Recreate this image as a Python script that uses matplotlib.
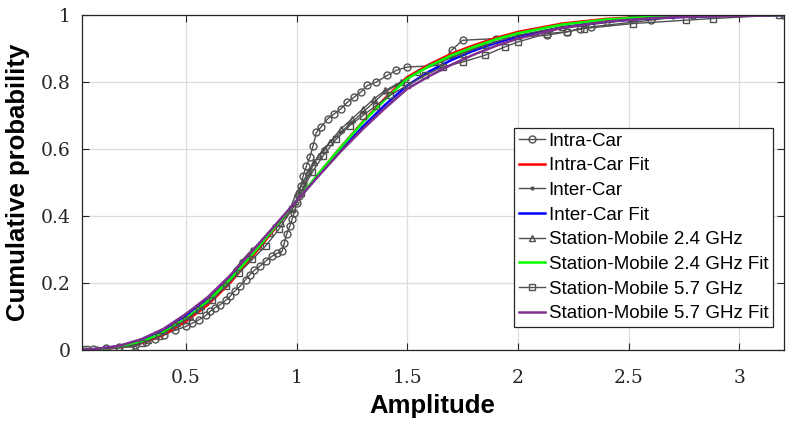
import matplotlib
matplotlib.use("Agg")
import matplotlib.pyplot as plt

# ---- data ----
intra_x = [0.08, 0.14, 0.20, 0.27, 0.32, 0.36, 0.40, 0.45, 0.50, 0.53, 0.56, 0.59, 0.61, 0.63,
           0.655, 0.68, 0.70, 0.72, 0.745, 0.77, 0.79, 0.81, 0.835, 0.86, 0.89, 0.91, 0.935,
           0.945, 0.955, 0.97, 0.98, 0.99, 1.00, 1.01, 1.02, 1.03, 1.045, 1.06, 1.075, 1.09,
           1.11, 1.14, 1.17, 1.20, 1.23, 1.26, 1.29, 1.32, 1.36, 1.41, 1.45, 1.50, 1.65,
           1.70, 1.75, 1.90, 2.13, 2.22, 2.28, 2.33, 2.60, 2.79, 3.20]
intra_y = [0.003, 0.006, 0.009, 0.015, 0.022, 0.032, 0.045, 0.058, 0.07, 0.08, 0.09, 0.103, 0.115, 0.125,
           0.135, 0.148, 0.16, 0.175, 0.19, 0.21, 0.225, 0.238, 0.25, 0.265, 0.28, 0.288, 0.295,
           0.32, 0.345, 0.37, 0.39, 0.41, 0.44, 0.46, 0.49, 0.52, 0.55, 0.575, 0.61, 0.65,
           0.665, 0.69, 0.705, 0.72, 0.74, 0.755, 0.77, 0.79, 0.80, 0.82, 0.835, 0.845, 0.85,
           0.895, 0.925, 0.93, 0.94, 0.95, 0.96, 0.965, 0.985, 1.0, 1.0]

inter_x = [0.05, 0.15, 0.25, 0.32, 0.38, 0.44, 0.50, 0.55, 0.60, 0.65, 0.70, 0.75, 0.80, 0.85,
           0.90, 0.95, 1.00, 1.02, 1.04, 1.06, 1.08, 1.10, 1.12, 1.16, 1.20, 1.25, 1.30, 1.35,
           1.40, 1.45, 1.50, 1.60, 1.70, 1.80, 1.90, 2.00, 2.15, 2.30, 2.50, 2.70, 3.20]
inter_y = [0.002, 0.005, 0.015, 0.03, 0.05, 0.07, 0.095, 0.12, 0.15, 0.18, 0.22, 0.265, 0.30, 0.33,
           0.37, 0.40, 0.44, 0.47, 0.50, 0.53, 0.56, 0.58, 0.60, 0.625, 0.65, 0.68, 0.71, 0.74,
           0.77, 0.79, 0.81, 0.85, 0.875, 0.90, 0.92, 0.935, 0.955, 0.97, 0.985, 0.993, 1.0]

sm24_x = [0.10, 0.27, 0.33, 0.40, 0.46, 0.52, 0.57, 0.62, 0.68, 0.72, 0.78, 0.83, 0.88, 0.93,
          0.97, 1.00, 1.03, 1.05, 1.08, 1.10, 1.13, 1.15, 1.20, 1.25, 1.30, 1.35, 1.40, 1.47,
          1.55, 1.65, 1.75, 1.85, 2.00, 2.20, 2.40, 2.53, 3.20]
sm24_y = [0.002, 0.01, 0.03, 0.055, 0.08, 0.10, 0.13, 0.165, 0.20, 0.24, 0.28, 0.31, 0.35, 0.38,
          0.42, 0.47, 0.50, 0.53, 0.56, 0.58, 0.60, 0.62, 0.66, 0.69, 0.72, 0.75, 0.775, 0.80,
          0.83, 0.86, 0.885, 0.91, 0.94, 0.965, 0.98, 0.998, 1.0]

sm57_x = [0.05, 0.20, 0.30, 0.38, 0.45, 0.50, 0.56, 0.62, 0.68, 0.74, 0.80, 0.86, 0.92, 0.98,
          1.02, 1.07, 1.12, 1.18, 1.24, 1.30, 1.36, 1.42, 1.50, 1.58, 1.66, 1.75, 1.85, 1.94,
          2.00, 2.13, 2.22, 2.30, 2.52, 2.76, 2.88, 3.18]
sm57_y = [0.002, 0.005, 0.02, 0.04, 0.07, 0.09, 0.12, 0.15, 0.19, 0.23, 0.27, 0.31, 0.36, 0.42,
          0.47, 0.53, 0.58, 0.63, 0.67, 0.70, 0.73, 0.76, 0.79, 0.82, 0.845, 0.86, 0.88, 0.905,
          0.92, 0.945, 0.95, 0.96, 0.975, 0.985, 0.99, 1.0]

fit_x = [0.03, 0.1, 0.2, 0.3, 0.4, 0.5, 0.6, 0.7, 0.8, 0.9, 1.0, 1.1, 1.2, 1.3, 1.4, 1.5,
         1.6, 1.7, 1.8, 1.9, 2.0, 2.2, 2.4, 2.6, 2.8, 3.0, 3.2]
intra_fit = [0.0, 0.002, 0.007, 0.02, 0.045, 0.085, 0.135, 0.20, 0.278, 0.36, 0.443, 0.526, 0.606,
             0.682, 0.752, 0.815, 0.853, 0.885, 0.91, 0.932, 0.95, 0.975, 0.989, 0.996, 0.999, 1.0, 1.0]
inter_fit = [0.0, 0.003, 0.011, 0.03, 0.06, 0.103, 0.155, 0.218, 0.29, 0.367, 0.445, 0.522, 0.597,
             0.667, 0.732, 0.79, 0.832, 0.866, 0.894, 0.917, 0.936, 0.964, 0.981, 0.991, 0.996, 0.999, 1.0]
sm24_fit = [0.0, 0.002, 0.008, 0.024, 0.052, 0.093, 0.145, 0.21, 0.285, 0.365, 0.445, 0.527, 0.605,
            0.68, 0.748, 0.81, 0.848, 0.88, 0.905, 0.928, 0.946, 0.972, 0.987, 0.995, 0.998, 1.0, 1.0]
sm57_fit = [0.0, 0.003, 0.012, 0.032, 0.063, 0.107, 0.158, 0.222, 0.295, 0.37, 0.445, 0.52, 0.593,
            0.66, 0.722, 0.78, 0.818, 0.852, 0.882, 0.908, 0.93, 0.962, 0.981, 0.991, 0.996, 0.998, 1.0]

labels = ["Intra-Car", "Intra-Car Fit", "Inter-Car", "Inter-Car Fit",
          "Station-Mobile 2.4 GHz", "Station-Mobile 2.4 GHz Fit",
          "Station-Mobile 5.7 GHz", "Station-Mobile 5.7 GHz Fit"]
xticks = [0.5, 1, 1.5, 2, 2.5, 3]
xticklabels = ["0.5", "1", "1.5", "2", "2.5", "3"]
yticks = [0, 0.2, 0.4, 0.6, 0.8, 1]
yticklabels = ["0", "0.2", "0.4", "0.6", "0.8", "1"]

gray = "#505050"
fit_colors = ["#ff0000", "#0000ff", "#00ff00", "#7e2f8e"]

fig = plt.figure(figsize=(7.86, 4.21), dpi=100)
ax = fig.add_axes([0.104, 0.169, 0.893, 0.795])

series = [(intra_x, intra_y, "o", intra_fit),
          (inter_x, inter_y, ".", inter_fit),
          (sm24_x, sm24_y, "^", sm24_fit),
          (sm57_x, sm57_y, "s", sm57_fit)]
i = 0
for (dx, dy, mk, fy), fc in zip(series, fit_colors):
    ax.plot(dx, dy, color=gray, lw=1.0, marker=mk, ms=5 if mk != "." else 4,
            mfc="none", mec=gray, mew=1.0, label=labels[i])
    ax.plot(fit_x, fy, color=fc, lw=1.8, label=labels[i + 1])
    i += 2

ax.set_xlim(0.03, 3.2)
ax.set_ylim(0, 1)
ax.set_xticks(xticks)
ax.set_xticklabels(xticklabels, family="DejaVu Serif", fontsize=13.5)
ax.set_yticks(yticks)
ax.set_yticklabels(yticklabels, family="DejaVu Serif", fontsize=13.5)
ax.tick_params(direction="in", length=5, width=0.8, colors="#262626", top=True, right=True)
ax.tick_params(axis="x", pad=14)
ax.tick_params(axis="y", pad=8)
ax.grid(True, color="#dddddd", lw=0.9)
ax.set_axisbelow(True)
for s in ax.spines.values():
    s.set_color("#262626")
    s.set_linewidth(0.9)

ax.set_xlabel("Amplitude", family="Liberation Sans", fontweight="bold", fontsize=18.5, labelpad=5)
ax.set_ylabel("Cumulative probability", family="Liberation Sans", fontweight="bold", fontsize=18.5, labelpad=8)

leg = ax.legend(loc="upper left", bbox_to_anchor=(0.654, 0.696), bbox_transform=fig.transFigure,
                borderaxespad=0, fancybox=False, framealpha=1, edgecolor="#262626",
                prop={"family": "Liberation Sans", "size": 13.5}, handlelength=1.4,
                handletextpad=0.2, labelspacing=0.4, borderpad=0.25)
leg.get_frame().set_linewidth(0.9)

fig.savefig("out.png", dpi=100)
